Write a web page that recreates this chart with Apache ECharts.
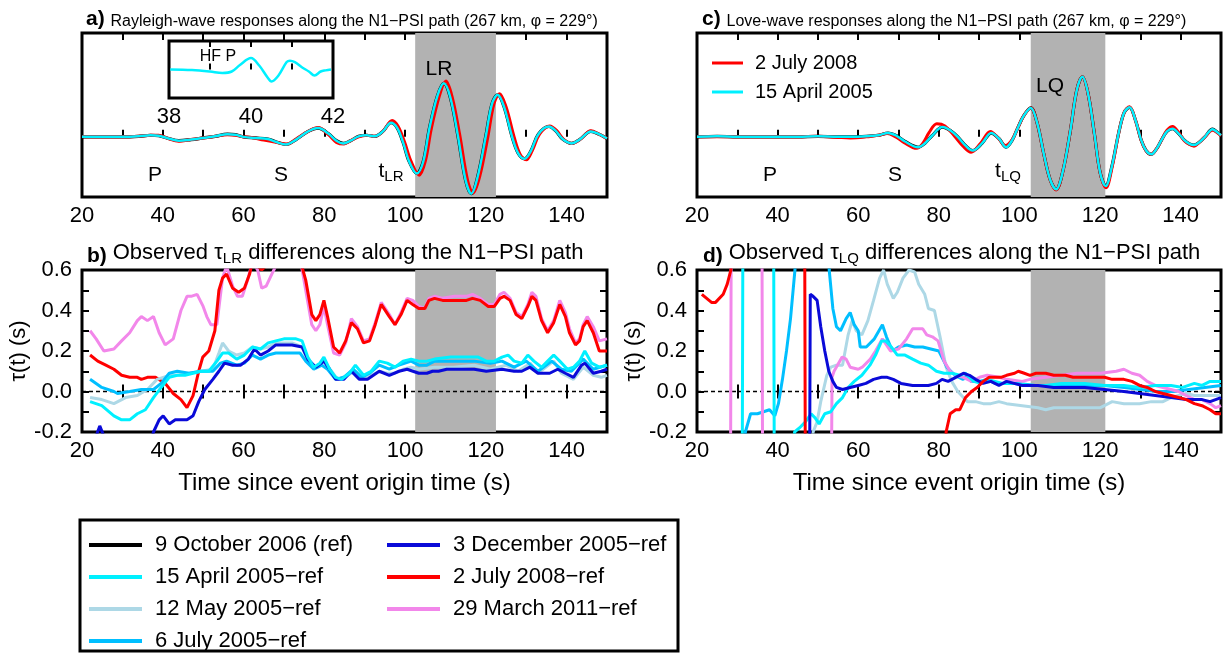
<!DOCTYPE html>
<html>
<head>
<meta charset="utf-8">
<script src="https://cdn.jsdelivr.net/npm/echarts@6/dist/echarts.min.js"></script>
<style>html,body{margin:0;padding:0;background:#fff}#main{width:1228px;height:654px}</style>
</head>
<body>
<div id="main"></div>
<script>
var F = 'Liberation Sans';

// shaded surface-wave windows (s)
var lrWindow = [102.5, 122.5];
var lqWindow = [102.8, 121.3];
var zeroLine = [[20, 0], [150, 0]];

// a) Rayleigh waveforms  [time s, normalised amplitude]
var rayCyan = [[20,0],[25,0],[30,0],[34,0.01],[37,0.03],[39,0.02],[41,-0.02],[44,-0.07],[47,-0.05],[50,-0.02],[53,0.01],[56,0.05],[58,0.04],[60,0],[63,-0.02],[66,-0.04],[68,-0.09],[70.5,-0.14],[73,-0.05],[76,0.1],[78.5,0.16],[81,0.06],[83,-0.07],[84.7,-0.12],[86.5,-0.07],[88.5,0.01],[90.5,0.03],[92.5,0.01],[94.5,0.1],[96.5,0.26],[98,0.17],[99.5,-0.1],[101,-0.45],[102.9,-0.67],[104.5,-0.45],[106,0.15],[108,0.75],[109.6,0.98],[111.2,0.72],[113,0.05],[115,-0.8],[116.4,-1.04],[118,-0.72],[120,0.02],[121.5,0.6],[122.9,0.77],[124.5,0.55],[126.5,0],[128,-0.3],[129.6,-0.4],[131.2,-0.25],[133,0.05],[135.6,0.19],[137.3,0.11],[139,-0.04],[141.2,-0.12],[143.2,-0.05],[146,0.1],[148,0.05],[150,-0.03]];
var rayRed = [[20,0],[25,0],[30,0],[34,0.01],[37,0.03],[39,0.03],[41,-0.02],[44,-0.08],[47,-0.05],[50,-0.02],[53,0.01],[56,0.04],[58,0.03],[60,0],[62,-0.01],[65,-0.06],[68,-0.1],[70.8,-0.13],[73,-0.04],[76,0.1],[78.5,0.17],[81,0.04],[83,-0.1],[84.9,-0.13],[86.5,-0.07],[88.5,0],[90.5,0.03],[92.5,0.01],[94.5,0.1],[96.8,0.3],[98.3,0.19],[99.9,-0.1],[101.5,-0.45],[103.5,-0.7],[105,-0.45],[106.5,0.15],[108.5,0.75],[110.1,1.02],[111.7,0.72],[113.5,0.05],[115.5,-0.8],[116.8,-1.03],[118.5,-0.72],[120.5,0],[122,0.6],[123.4,0.79],[125,0.55],[127,0],[128.5,-0.32],[130,-0.42],[131.5,-0.25],[133.3,0.05],[135.8,0.2],[137.5,0.12],[139.2,-0.04],[141.3,-0.12],[143.3,-0.05],[146,0.11],[148,0.05],[150,-0.03]];
// a) inset, high-frequency P
var hfpCyan = [[38.03,0],[38.56,-0.02],[39,-0.07],[39.3,-0.12],[39.53,-0.07],[39.73,0.16],[40,0.4],[40.2,0.14],[40.4,-0.27],[40.5,-0.42],[40.67,-0.21],[40.87,0.26],[40.95,0.31],[41.07,0.26],[41.24,0.08],[41.41,-0.07],[41.55,-0.21],[41.7,-0.07],[41.82,-0.03],[41.95,0]];

// c) Love waveforms
var loveCyan = [[20,0],[25,0.01],[30,0],[35,0],[40,0],[45,0],[50,0.01],[55,0],[58,0],[62,0.01],[65,0.03],[67.4,0.07],[69.5,0.02],[71.5,-0.08],[74.9,-0.19],[76.5,-0.12],[78.3,0.02],[80.9,0.18],[82.8,0.12],[84.7,0],[86.5,-0.15],[88.4,-0.25],[90.7,-0.12],[93,0.07],[94.9,-0.03],[96.7,-0.19],[98.2,-0.06],[99.5,0.15],[101,0.38],[102.8,0.53],[104.4,0.25],[106,-0.3],[107.6,-0.78],[109.1,-0.96],[110.7,-0.65],[112.6,0.1],[114.2,0.85],[115.6,1.1],[117,0.8],[118.6,0.05],[120,-0.65],[121.4,-0.9],[122.9,-0.55],[124.7,0.1],[126,0.45],[127.3,0.54],[128.8,0.3],[130.2,-0.06],[131.4,-0.25],[132.7,-0.32],[134,-0.22],[135.3,-0.05],[136.6,0.1],[138,0.15],[139.5,0.06],[140.9,-0.06],[142.2,-0.13],[143.3,-0.15],[144.6,-0.1],[146,0],[147.9,0.14],[149,0.09],[150,0.03]];
var loveRed = [[20,0],[25,0],[30,0],[35,0],[40,0],[45,0],[50,0.01],[55,-0.01],[58,-0.02],[62,0],[65,0.03],[67.2,0.06],[69.3,0],[71.3,-0.1],[74.5,-0.21],[76,-0.12],[77.6,0.08],[79.5,0.24],[81.5,0.2],[83.8,0.02],[86,-0.17],[88,-0.28],[90.3,-0.12],[92.8,0.1],[94.7,-0.02],[96.5,-0.16],[98.2,-0.05],[99.5,0.15],[101,0.38],[102.8,0.53],[104.4,0.25],[106,-0.3],[107.6,-0.78],[109.1,-0.97],[110.7,-0.65],[112.6,0.1],[114.2,0.85],[115.6,1.1],[117,0.8],[118.6,0.05],[120,-0.65],[121.5,-0.93],[123,-0.55],[124.7,0.1],[126,0.45],[127.3,0.55],[128.8,0.3],[130.2,-0.06],[131.4,-0.25],[132.7,-0.32],[134,-0.22],[135.3,-0.05],[136.6,0.12],[138,0.19],[139.5,0.08],[140.9,-0.07],[142.2,-0.14],[143.3,-0.17],[144.6,-0.1],[146,0],[147.9,0.12],[149,0.08],[150,0.02]];

// b) tau_LR differences (s)
var lrPink = [[22,0.30],[23.5,0.26],[25.4,0.20],[27.9,0.21],[29.8,0.25],[31.8,0.29],[33.7,0.35],[34.7,0.37],[36.2,0.35],[37.7,0.37],[39.1,0.29],[40.6,0.23],[42.6,0.26],[44.5,0.4],[46,0.47],[47,0.47],[48.5,0.48],[50,0.42],[50.9,0.37],[51.9,0.33],[53.4,0.33],[54.8,0.56],[55.8,0.62],[57.3,0.52],[58.5,0.47],[59.7,0.47],[61,0.55],[62.2,0.64],[63.5,0.6],[64.5,0.51],[65.6,0.52],[67,0.58],[68,0.62],[70,0.66],[74,0.66],[75.4,0.5],[76.9,0.33],[77.9,0.3],[78.9,0.33],[79.9,0.42],[80.8,0.33],[82.3,0.19],[83.8,0.18],[85.3,0.24],[86.7,0.36],[88.2,0.32],[89.7,0.25],[91.2,0.26],[92.6,0.34],[94.1,0.44],[96.1,0.38],[97.5,0.33],[99,0.39],[100.5,0.46],[101.9,0.45],[103.4,0.42],[104.9,0.41],[105.9,0.46],[107.3,0.47],[109.3,0.46],[112.2,0.47],[115.2,0.47],[116.7,0.48],[118.6,0.46],[120.6,0.43],[122.1,0.43],[123.5,0.48],[124.5,0.49],[126,0.46],[127.5,0.39],[128.9,0.37],[130.4,0.43],[131.4,0.49],[132.4,0.47],[133.8,0.36],[135.3,0.3],[136.8,0.35],[138.3,0.45],[139.7,0.39],[140.7,0.31],[142.2,0.24],[143.2,0.26],[144.1,0.33],[145.1,0.37],[146.6,0.32],[148.1,0.25],[150,0.26]];
var lrRed = [[22,0.18],[23.9,0.15],[25.9,0.13],[27.9,0.11],[29.8,0.08],[31.8,0.07],[33.7,0.07],[34.7,0.06],[36.2,0.07],[38.2,0.07],[40.6,0.04],[42.6,-0.01],[44.5,-0.04],[46,-0.08],[47.5,-0.02],[48.9,0.1],[49.9,0.17],[51.4,0.2],[52.9,0.3],[53.9,0.5],[54.8,0.56],[55.8,0.58],[57.3,0.51],[58.8,0.49],[60.2,0.51],[61.5,0.58],[62.2,0.64],[63.5,0.62],[64.5,0.6],[66.1,0.63],[68,0.69],[70,0.71],[72.5,0.69],[74,0.65],[75.4,0.55],[76.9,0.38],[77.9,0.35],[78.9,0.38],[79.9,0.45],[80.8,0.37],[82.3,0.22],[83.8,0.19],[85.3,0.25],[86.7,0.34],[88.2,0.31],[89.7,0.24],[91.2,0.25],[92.6,0.33],[94.1,0.43],[96.1,0.37],[97.5,0.33],[99,0.38],[100.5,0.45],[101.9,0.43],[103.4,0.41],[104.9,0.41],[105.9,0.45],[107.3,0.46],[109.3,0.45],[112.2,0.45],[115.2,0.45],[116.7,0.46],[118.6,0.45],[120.6,0.42],[122.1,0.42],[123.5,0.46],[124.5,0.47],[126,0.45],[127.5,0.38],[128.9,0.36],[130.4,0.42],[131.4,0.47],[132.4,0.45],[133.8,0.35],[135.3,0.29],[136.8,0.34],[138.3,0.43],[139.7,0.37],[140.7,0.29],[142.2,0.23],[143.2,0.25],[144.1,0.32],[145.1,0.35],[146.6,0.29],[148.1,0.2],[150,0.2]];
var lrLight = [[22,-0.03],[24.9,-0.04],[27.9,-0.06],[30.8,-0.03],[33.7,-0.02],[36.2,0.01],[38.6,0.06],[41.6,0.08],[43.6,0.08],[46.5,0.09],[49.4,0.1],[52.4,0.11],[53.9,0.19],[54.8,0.24],[56.3,0.2],[58.3,0.18],[60.2,0.19],[62.2,0.22],[64.2,0.21],[66.1,0.22],[68,0.24],[72,0.24],[74.5,0.22],[75.9,0.15],[77.9,0.12],[79.9,0.15],[81.8,0.1],[83.3,0.06],[85.7,0.08],[87.7,0.1],[89.7,0.07],[91.6,0.08],[93.6,0.1],[95.5,0.09],[97.5,0.09],[99.5,0.11],[101.5,0.12],[103.4,0.11],[107.3,0.12],[112,0.12],[117.1,0.13],[121.1,0.11],[125,0.13],[128,0.1],[131,0.14],[132.9,0.09],[136.8,0.15],[138.7,0.09],[141.7,0.06],[144.1,0.12],[146.6,0.08],[148.6,0.07],[150,0.08]];
var lrSky = [[22,0.06],[24.9,0.02],[27.9,0],[28.8,-0.01],[31.8,0],[34.7,0.01],[37.7,0.01],[39.6,0.04],[41.6,0.09],[43.6,0.1],[46.5,0.09],[49.4,0.1],[52.4,0.1],[54.3,0.14],[55.8,0.15],[58.3,0.13],[60.2,0.14],[62.2,0.18],[64.2,0.16],[66.1,0.18],[68,0.19],[74,0.19],[75.4,0.15],[77.4,0.11],[79.4,0.13],[80.8,0.11],[82.8,0.06],[84.8,0.07],[87.2,0.11],[89.2,0.07],[91.2,0.09],[93.6,0.13],[96.1,0.11],[98.5,0.13],[101.5,0.15],[103.4,0.13],[105.4,0.13],[107.3,0.15],[117.1,0.15],[121.1,0.14],[124,0.15],[127,0.12],[130,0.15],[132.9,0.1],[136.3,0.15],[138.7,0.11],[141.2,0.1],[144.1,0.16],[146.6,0.11],[150,0.13]];
var lrBlue = [[21,-0.23],[23.5,-0.22],[24.4,-0.17],[25.4,-0.22],[28,-0.3],[33,-0.32],[37,-0.25],[37.7,-0.2],[39.1,-0.14],[40.1,-0.12],[41.6,-0.16],[43.1,-0.14],[46,-0.14],[47.5,-0.12],[48.9,-0.05],[50.4,0.01],[52.4,0.06],[53.9,0.1],[55.3,0.14],[57.3,0.13],[59.3,0.13],[61.2,0.16],[62.7,0.21],[64.2,0.18],[66.1,0.2],[68,0.23],[72,0.23],[74.5,0.22],[75.9,0.16],[77.9,0.12],[79.9,0.15],[81.3,0.11],[82.8,0.06],[84.8,0.06],[86.7,0.1],[88.7,0.06],[90.7,0.06],[93.6,0.1],[96.1,0.08],[98.5,0.1],[100.5,0.11],[103.4,0.09],[105.4,0.09],[106.8,0.1],[108.3,0.1],[110.3,0.11],[117.1,0.11],[120.1,0.1],[124,0.11],[127,0.1],[128.9,0.1],[130.9,0.12],[132.9,0.09],[135.8,0.09],[137.8,0.11],[139.7,0.09],[141.7,0.07],[143.7,0.13],[144.5,0.14],[146.6,0.09],[148.6,0.1],[150,0.11]];
var lrCyan = [[22,-0.05],[24.9,-0.07],[27.9,-0.12],[29.8,-0.14],[31.8,-0.14],[33.7,-0.11],[35.7,-0.09],[37.7,-0.03],[39.6,0.02],[41.6,0.07],[43.6,0.08],[45.5,0.08],[47.5,0.09],[49.4,0.1],[51.4,0.1],[53.4,0.15],[54.8,0.19],[56.3,0.19],[58.3,0.16],[60.2,0.18],[62.2,0.22],[64.2,0.21],[66.1,0.24],[68,0.25],[70,0.26],[73,0.26],[74.5,0.25],[75.9,0.17],[77.4,0.12],[78.9,0.14],[79.9,0.17],[81.3,0.11],[82.8,0.07],[84.3,0.06],[86.2,0.09],[87.7,0.13],[89.7,0.08],[91.6,0.1],[93.6,0.15],[95.6,0.14],[97.5,0.12],[99.5,0.15],[101.5,0.16],[103.4,0.15],[105.4,0.15],[107.3,0.16],[111.3,0.17],[115.2,0.17],[118.1,0.17],[120.1,0.15],[122.1,0.15],[124,0.17],[125.5,0.18],[127,0.15],[128.9,0.14],[130.4,0.18],[131.9,0.15],[133.8,0.12],[135.3,0.15],[136.8,0.18],[138.3,0.15],[140.2,0.11],[141.7,0.12],[143.2,0.15],[144.5,0.2],[146.2,0.14],[148.1,0.12],[150,0.13]];

// d) tau_LQ differences (s); off-scale stretches kept beyond the axis range
var lqRed = [[21.2,0.48],[23.6,0.44],[24.6,0.44],[26.5,0.48],[27.5,0.53],[28.4,0.6],[29,0.9],[46.7,0.9],[46.9,-0.6],[81.5,-0.6],[81.8,-0.2],[82.8,-0.11],[84.2,-0.09],[85.2,-0.09],[86.6,-0.03],[88.1,0],[89.5,0.02],[91,0.05],[92.5,0.07],[93.9,0.07],[95.4,0.07],[96.8,0.08],[98.8,0.09],[99.7,0.1],[101.2,0.09],[102.6,0.08],[104.1,0.09],[106.5,0.09],[108.5,0.08],[111.4,0.08],[113.3,0.07],[121.1,0.07],[123,0.06],[125.9,0.06],[127.9,0.05],[129.8,0.03],[131.7,0.02],[133.7,0],[135.6,-0.01],[137.6,-0.02],[139.5,-0.03],[141.4,-0.04],[143.4,-0.06],[145.3,-0.07],[147.3,-0.09],[148.7,-0.11],[150,-0.11]];
var lqPink = [[22,-0.6],[28.3,-0.6],[28.5,0.9],[36.1,0.9],[36.3,-0.6],[53.3,-0.6],[53.5,0.07],[54,0.1],[56,0.17],[57,0.16],[58,0.12],[60,0.11],[61,0.12],[63,0.16],[64.3,0.2],[66,0.26],[68,0.2],[70,0.21],[72,0.26],[73.5,0.31],[76,0.31],[77,0.28],[78.4,0.27],[79.8,0.25],[81.3,0.15],[82.8,0.1],[84.2,0.08],[86.1,0.07],[88.1,0.05],[90.1,0.07],[92,0.08],[94.9,0.07],[96.8,0.06],[100.7,0.05],[102.6,0.06],[106.5,0.07],[110.4,0.08],[114.3,0.09],[116.2,0.09],[120.1,0.09],[124,0.1],[125.9,0.11],[127.9,0.09],[129.8,0.08],[131.7,0.05],[133.7,0.03],[135.6,0.02],[137.6,0.01],[139.5,0],[141.4,-0.02],[143.4,-0.04],[145.3,-0.04],[147.3,-0.06],[148.7,-0.08],[150,-0.07]];
var lqCyan = [[22,-0.6],[31.2,-0.6],[31.4,0.9],[39,0.9],[39.2,-0.6],[43.9,-0.6],[44.2,-0.2],[45.4,-0.18],[46.9,-0.15],[48.3,-0.11],[49.3,-0.13],[50.3,-0.16],[51.7,-0.11],[53.2,-0.1],[54.6,-0.06],[56.1,-0.03],[57.5,0.02],[59,0.05],[60.9,0.08],[62.9,0.13],[64.3,0.18],[65.8,0.25],[66.8,0.25],[68.2,0.22],[69.7,0.18],[71.6,0.18],[73.5,0.16],[75.5,0.14],[77.4,0.13],[79.4,0.1],[81.3,0.09],[83.2,0.09],[85.2,0.08],[86.6,0.09],[88.6,0.05],[90.5,0.04],[92,0.06],[93.9,0.05],[95.8,0.04],[98.8,0.04],[102.6,0.03],[106.5,0.03],[110.4,0.04],[116.2,0.04],[121.1,0.03],[125.9,0.03],[129.8,0.02],[133.7,0.03],[137.6,0.03],[140.5,0.02],[143.4,0.04],[145.3,0.03],[147.3,0.05],[150,0.05]];
var lqSky = [[22,-0.6],[31.6,-0.6],[32,-0.2],[33.3,-0.11],[35,-0.11],[36.5,-0.1],[38,-0.09],[39.3,-0.12],[40.2,-0.06],[41.2,0.06],[42.2,0.2],[43.2,0.36],[44.3,0.6],[45,0.9],[52.4,0.9],[52.8,0.6],[53.7,0.41],[54.6,0.32],[55.6,0.3],[57,0.36],[58,0.39],[59,0.33],[60,0.3],[60.5,0.22],[62,0.22],[64,0.26],[66,0.33],[67,0.27],[68.5,0.2],[70,0.22],[72,0.23],[74,0.22],[76,0.22],[78,0.21],[80,0.2],[82,0.12],[84,0.08],[86,0.06],[87,0.08],[88,0.05],[90,0.05],[92,0.06],[94,0.04],[96,0.04],[100,0.04],[104,0.03],[110,0.03],[116,0.03],[121,0.03],[126,0.02],[130,0.01],[134,0],[138,0],[142,0.01],[146,0.02],[150,0.03]];
var lqLight = [[22,-0.6],[48.6,-0.6],[48.8,-0.2],[49.8,-0.15],[50.7,-0.05],[52.2,0.08],[53.2,0.12],[54.6,0.13],[56.1,0.13],[57.5,0.28],[58.5,0.35],[59.5,0.3],[60.9,0.28],[62.4,0.35],[63.8,0.45],[65.3,0.56],[66.3,0.6],[67.2,0.53],[68.7,0.46],[69.7,0.49],[71.1,0.56],[72.6,0.6],[74,0.59],[75,0.53],[76.5,0.48],[77.4,0.41],[78.9,0.4],[80.3,0.27],[81.8,0.12],[83.2,0.05],[84.7,0],[86.1,-0.03],[87.1,-0.05],[89.1,-0.05],[91,-0.06],[92.9,-0.06],[94.9,-0.05],[96.8,-0.06],[100.7,-0.07],[104.6,-0.08],[106.5,-0.09],[108.5,-0.08],[112.3,-0.08],[116.2,-0.08],[120.1,-0.08],[123,-0.05],[125.9,-0.06],[129.8,-0.06],[132.7,-0.05],[135.6,-0.05],[137.6,-0.03],[139.5,-0.02],[141.4,-0.01],[143.4,-0.02],[147.3,-0.02],[150,-0.02]];
var lqBlue = [[22,-0.6],[47.9,-0.6],[48.1,0.48],[48.8,0.47],[49.8,0.45],[50.7,0.32],[51.7,0.2],[52.7,0.1],[53.7,0.05],[54.6,0.02],[56.1,0.01],[58,0.02],[60,0.03],[61.9,0.04],[63.8,0.06],[65.8,0.07],[67.2,0.07],[68.7,0.06],[70.6,0.04],[73.5,0.03],[77.4,0.03],[79.4,0.04],[80.8,0.06],[82.3,0.05],[84.2,0.07],[86.1,0.09],[87.6,0.08],[89.1,0.06],[91,0.04],[92.9,0.05],[94.9,0.03],[96.8,0.05],[100.7,0.03],[104.6,0.03],[108.5,0.02],[116.2,0.02],[121.1,0.01],[125.9,0],[129.8,-0.01],[133.7,-0.02],[137.6,-0.03],[141.4,-0.04],[145.3,-0.04],[147.3,-0.05],[150,-0.03]];

var C = {
  black: '#000000', cyan: '#00f0ff', light: '#add8e6', sky: '#00bfff',
  blue: '#0a0ad8', red: '#ff0000', pink: '#f287ea'
};
var N = {
  ref: '9 October 2006 (ref)', apr: '15 April 2005\u2212ref', may: '12 May 2005\u2212ref',
  jul: '6 July 2005\u2212ref', dec: '3 December 2005\u2212ref', jul08: '2 July 2008\u2212ref',
  mar: '29 March 2011\u2212ref'
};

var myChart = echarts.init(document.getElementById('main'));

var tick = {inside: true, length: 7, lineStyle: {color: '#000', width: 2}};
function lab20(v) { return v % 20 === 0 ? String(v) : ''; }
function labTau(v) { var k = Math.round(v * 10); return k % 2 === 0 ? v.toFixed(1) : ''; }

var xAxes = [], yAxes = [];
function addX(g, min, max, step, pos, fmt, extra) {
  var ax = {type: 'value', gridIndex: g, min: min, max: max, interval: step, position: pos,
    axisLine: {show: false}, splitLine: {show: false}, axisTick: tick,
    axisLabel: fmt ? {color: '#000', fontFamily: F, fontSize: 22, margin: 8, formatter: fmt} : {show: false}};
  for (var k in extra) ax[k] = extra[k];
  xAxes.push(ax);
  return xAxes.length - 1;
}
function addY(g, min, max, step, pos, fmt, extra) {
  var ax = {type: 'value', gridIndex: g, min: min, max: max, interval: step, position: pos,
    axisLine: {show: false}, splitLine: {show: false}, axisTick: tick,
    axisLabel: fmt ? {color: '#000', fontFamily: F, fontSize: 22, margin: 10, formatter: fmt} : {show: false}};
  for (var k in extra) ax[k] = extra[k];
  yAxes.push(ax);
  return yAxes.length - 1;
}

var timeName = {name: 'Time since event origin time (s)', nameLocation: 'middle', nameGap: 39,
  nameTextStyle: {fontFamily: F, fontSize: 24, color: '#000'}};
var tauName = {name: '\u03c4(t) (s)', nameLocation: 'middle', nameGap: 46, nameRotate: 90,
  nameTextStyle: {fontFamily: F, fontSize: 22, color: '#000'}};

// grids: 0 a, 1 inset, 2 c, 3 b, 4 d
var xa = addX(0, 20, 150, 10, 'bottom', lab20); addX(0, 20, 150, 10, 'top');
var ya = addY(0, -1.1, 1.9, 1, 'left', null, {show: false});
var xi = addX(1, 38, 42, 1, 'bottom', function (v) { return v % 2 === 0 ? String(v) : ''; },
  {axisTick: {inside: true, length: 6, lineStyle: {color: '#000', width: 2}}});
addX(1, 38, 42, 1, 'top', null, {axisTick: {inside: true, length: 6, lineStyle: {color: '#000', width: 2}}});
var yi = addY(1, -1, 1, 1, 'left', null, {show: false});
var xc = addX(2, 20, 150, 10, 'bottom', lab20); addX(2, 20, 150, 10, 'top');
var yc = addY(2, -1.1, 1.9, 1, 'left', null, {show: false});
var xb = addX(3, 20, 150, 10, 'bottom', lab20, timeName); addX(3, 20, 150, 10, 'top');
var yb = addY(3, -0.2, 0.6, 0.1, 'left', labTau, tauName); addY(3, -0.2, 0.6, 0.1, 'right');
var xd = addX(4, 20, 150, 10, 'bottom', lab20, timeName); addX(4, 20, 150, 10, 'top');
var yd = addY(4, -0.2, 0.6, 0.1, 'left', labTau, tauName); addY(4, -0.2, 0.6, 0.1, 'right');

function line(name, data, color, x, y, width, smooth, z) {
  return {name: name, type: 'line', xAxisIndex: x, yAxisIndex: y, data: data, symbol: 'none',
    smooth: smooth, z: z, silent: true, clip: true,
    lineStyle: {color: color, width: width}, itemStyle: {color: color}};
}
function shade(s, w) {
  s.markArea = {silent: true, itemStyle: {color: '#b2b2b2'}, data: [[{xAxis: w[0]}, {xAxis: w[1]}]]};
  return s;
}
function zero(x, y) {
  return {type: 'line', xAxisIndex: x, yAxisIndex: y, data: zeroLine, symbol: 'none', silent: true, z: 2,
    lineStyle: {color: '#000', width: 1.5, type: [4, 3]}};
}

var series = [
  shade(line(N.ref, rayCyan, C.black, xa, ya, 3.2, 0.35, 3), lrWindow),
  line('2 July 2008', rayRed, C.red, xa, ya, 3, 0.35, 4),
  line('15 April 2005', rayCyan, C.cyan, xa, ya, 2.5, 0.35, 5),
  line('15 April 2005', hfpCyan, C.cyan, xi, yi, 2.5, 0.35, 5),

  shade(line(N.ref, loveCyan, C.black, xc, yc, 3.2, 0.35, 3), lqWindow),
  line('2 July 2008', loveRed, C.red, xc, yc, 3, 0.35, 4),
  line('15 April 2005', loveCyan, C.cyan, xc, yc, 2.5, 0.35, 5),

  shade(zero(xb, yb), lrWindow),
  line(N.mar, lrPink, C.pink, xb, yb, 3, false, 3),
  line(N.jul08, lrRed, C.red, xb, yb, 3, false, 4),
  line(N.may, lrLight, C.light, xb, yb, 3, false, 5),
  line(N.jul, lrSky, C.sky, xb, yb, 3, false, 6),
  line(N.dec, lrBlue, C.blue, xb, yb, 3, false, 7),
  line(N.apr, lrCyan, C.cyan, xb, yb, 3, false, 8),

  shade(zero(xd, yd), lqWindow),
  line(N.may, lqLight, C.light, xd, yd, 3, false, 3),
  line(N.jul, lqSky, C.sky, xd, yd, 3, false, 4),
  line(N.mar, lqPink, C.pink, xd, yd, 3, false, 5),
  line(N.apr, lqCyan, C.cyan, xd, yd, 3, false, 6),
  line(N.dec, lqBlue, C.blue, xd, yd, 3, false, 7),
  line(N.jul08, lqRed, C.red, xd, yd, 3, false, 8)
];

var RICH = {
  b: {fontFamily: F, fontSize: 21, fontWeight: 'bold', fill: '#000', verticalAlign: 'bottom'},
  h: {fontFamily: F, fontSize: 16, fill: '#000', verticalAlign: 'bottom'},
  m: {fontFamily: F, fontSize: 22, fill: '#000'},
  p: {fontFamily: F, fontSize: 21, fill: '#000'},
  s: {fontFamily: F, fontSize: 15, fill: '#000', verticalAlign: 'top', padding: [12, 0, 0, 0]}
};
function txt(x, y, text, align) {
  return {type: 'text', x: x, y: y, z: 100, silent: true,
    style: {text: text, rich: RICH, font: '21px "' + F + '"', fill: '#000',
      align: align || 'center', verticalAlign: 'middle'}};
}

var graphics = [
  txt(86, 19, '{b|a)} {h|Rayleigh-wave responses along the N1\u2212PSI path (267 km, \u03c6 = 229\u00b0)}', 'left'),
  txt(702, 19, '{b|c)} {h|Love-wave responses along the N1\u2212PSI path (267 km, \u03c6 = 229\u00b0)}', 'left'),
  txt(87, 253, '{b|b)} {m|Observed \u03c4}{s|LR}{m| differences along the N1\u2212PSI path}', 'left'),
  txt(703, 253, '{b|d)} {m|Observed \u03c4}{s|LQ}{m| differences along the N1\u2212PSI path}', 'left'),
  txt(155, 175, '{p|P}'), txt(281, 175, '{p|S}'), txt(391, 171, '{p|t}{s|LR}'), txt(439, 69, '{p|LR}'),
  txt(770, 175, '{p|P}'), txt(895, 175, '{p|S}'), txt(1008, 171, '{p|t}{s|LQ}'), txt(1050, 86, '{p|LQ}'),
  txt(218, 57, '{h|HF P}'),
  {type: 'rect', z: 100, silent: true, shape: {x: 80, y: 520, width: 598, height: 131},
    style: {fill: 'transparent', stroke: '#000', lineWidth: 3}}
];

var frame = {show: true, borderWidth: 3, borderColor: '#000', backgroundColor: 'transparent'};
function grid(l, t, w, h, bg) {
  var g = {left: l, top: t, width: w, height: h};
  for (var k in frame) g[k] = frame[k];
  if (bg) g.backgroundColor = bg;
  return g;
}

var option = {
  animation: false,
  grid: [
    grid(82, 33, 525, 164),
    grid(169, 41, 164, 57, '#ffffff'),
    grid(697, 33, 524, 164),
    grid(82, 270, 525, 162),
    grid(697, 270, 524, 162)
  ],
  xAxis: xAxes,
  yAxis: yAxes,
  legend: [
    {data: [N.ref, N.apr, N.may, N.jul, N.dec, N.jul08, N.mar], orient: 'vertical',
      left: 89, top: 534, height: 120, itemWidth: 53, itemHeight: 4, icon: 'rect', itemGap: 10,
      selectedMode: false, padding: 0,
      textStyle: {fontFamily: F, fontSize: 22, color: '#000', width: 222, lineHeight: 21, padding: [0, 0, 0, 8]}},
    {data: ['2 July 2008', '15 April 2005'], orient: 'vertical', left: 712, top: 53,
      itemWidth: 31, itemHeight: 3, icon: 'rect', itemGap: 9, selectedMode: false, padding: 0,
      textStyle: {fontFamily: F, fontSize: 20, color: '#000', lineHeight: 20, padding: [0, 0, 0, 7]}}
  ],
  graphic: graphics,
  series: series
};

myChart.setOption(option);
</script>
</body>
</html>
